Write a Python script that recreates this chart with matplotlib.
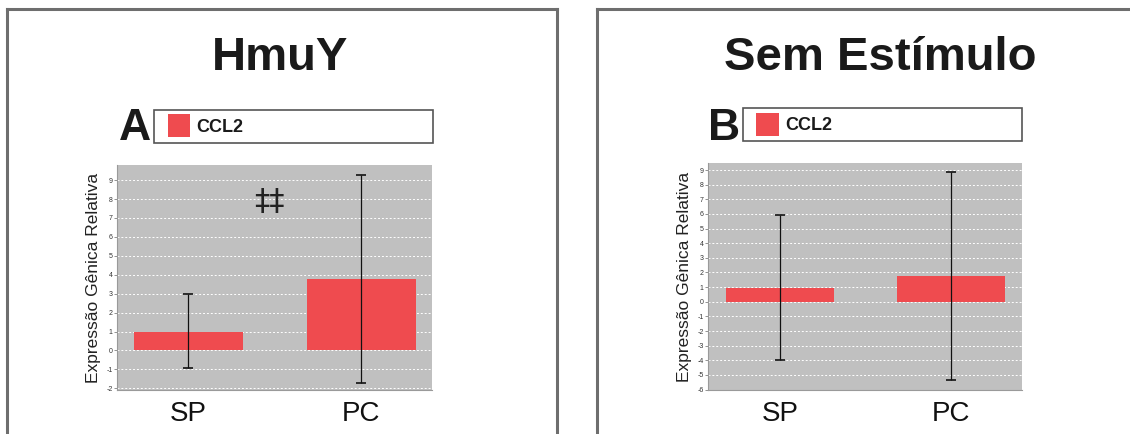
import matplotlib
matplotlib.use("Agg")
import matplotlib.pyplot as plt
from matplotlib.patches import Rectangle

categories = ["SP", "PC"]
series_name = "CCL2"

# Panel A: HmuY
a_title = "HmuY"
a_values = [0.97, 3.75]
a_err_low = [-0.93, -1.70]
a_err_high = [2.97, 9.27]
a_yticks = list(range(-2, 10))

# Panel B: Sem Estímulo
b_title = "Sem Estímulo"
b_values = [0.95, 1.74]
b_err_low = [-3.97, -5.33]
b_err_high = [5.93, 8.84]
b_yticks = list(range(-6, 10))

W, H = 1130, 434
fig = plt.figure(figsize=(W / 100, H / 100), dpi=100)
fig.patch.set_facecolor("white")

BAR = "#EF4B4F"
GRAYBG = "#C0C0C0"
FONT = ["Liberation Sans", "DejaVu Sans"]
NARROW = ["Liberation Sans Narrow", "Liberation Sans", "DejaVu Sans"]


def fx(px):
    return px / W


def fy(py):
    return 1 - py / H


# panel frames
for (x0, x1) in [(7, 557), (597, 1140)]:
    for xs, ys in [([x0, x0], [9, 440]), ([x1, x1], [9, 440]), ([x0, x1], [9, 9])]:
        fig.add_artist(plt.Line2D([fx(v) for v in xs], [fy(v) for v in ys], color="#6E6E6E", lw=2.2,
                                  transform=fig.transFigure))


def panel(ax_px, ylim, xlim, values, lo, hi, yticks, title, title_cx, letter, letter_x, box_px, sq_px, txt_x, marks=None):
    l, t, r, b = ax_px
    ax = fig.add_axes([fx(l), fy(b), fx(r) - fx(l), fy(t) - fy(b)])
    ax.set_facecolor(GRAYBG)
    x = list(range(len(categories)))
    yerr = [[v - a for v, a in zip(values, lo)], [c - v for v, c in zip(values, hi)]]
    ax.bar(x, values, width=0.63, color=BAR, zorder=2)
    ax.errorbar(x, values, yerr=yerr, fmt="none", ecolor="#111111", elinewidth=0.9, capsize=3.5, capthick=1.2, zorder=3)
    ax.set_ylim(*ylim)
    ax.set_xlim(*xlim)
    ax.set_yticks(yticks)
    ax.set_yticklabels([str(v) for v in yticks], fontsize=5, family=NARROW, color="#333333")
    ax.yaxis.grid(True, color="white", ls=(0, (2, 2)), lw=0.7, zorder=1)
    ax.set_axisbelow(True)
    ax.tick_params(axis="y", length=2, width=0.5, pad=1, color="#666666")
    ax.set_xticks(x)
    ax.set_xticklabels(categories, fontsize=20, family=NARROW, color="#111111")
    ax.tick_params(axis="x", length=0, pad=8)
    for s in ["top", "right"]:
        ax.spines[s].set_visible(False)
    for s in ["left", "bottom"]:
        ax.spines[s].set_color("#9A9A9A")
        ax.spines[s].set_linewidth(0.8)
    ax.set_ylabel("Expressão Gênica Relativa", fontsize=12.5, family=FONT, color="#222222", labelpad=4)
    if marks:
        mx, my, mtxt = marks
        ax.text(mx, my, mtxt, fontsize=22, ha="center", va="center", color="#222222", family=["DejaVu Sans"])

    fig.text(fx(title_cx), fy(58), title, fontsize=34, fontweight="bold", family=FONT, ha="center", va="center", color="#1a1a1a")
    fig.text(fx(letter_x), fy(128), letter, fontsize=32, fontweight="bold", family=FONT, ha="center", va="center", color="#1a1a1a")
    bl, bt, br, bb = box_px
    fig.add_artist(Rectangle((fx(bl), fy(bb)), fx(br) - fx(bl), fy(bt) - fy(bb), transform=fig.transFigure,
                             facecolor="white", edgecolor="#555555", lw=1.2))
    sl, st, sr, sb = sq_px
    fig.add_artist(Rectangle((fx(sl), fy(sb)), fx(sr) - fx(sl), fy(st) - fy(sb), transform=fig.transFigure,
                             facecolor=BAR, edgecolor="none"))
    fig.text(fx(txt_x), fy((bt + bb) / 2 + 1), series_name, fontsize=13, fontweight="bold", family=FONT,
             ha="left", va="center", color="#1a1a1a")
    return ax


panel((117, 165, 432, 390), (-2.09, 9.8), (-0.413, 1.408), a_values, a_err_low, a_err_high, a_yticks,
      a_title, 280, "A", 135, (154, 110, 433, 143), (168, 114, 190, 137), 196,
      marks=(0.465, 7.85, "‡‡"))
panel((708, 163, 1022, 390), (-6.03, 9.48), (-0.421, 1.415), b_values, b_err_low, b_err_high, b_yticks,
      b_title, 880, "B", 724, (743, 108, 1022, 141), (756, 113, 779, 136), 785)

fig.savefig("out.png", dpi=100)
